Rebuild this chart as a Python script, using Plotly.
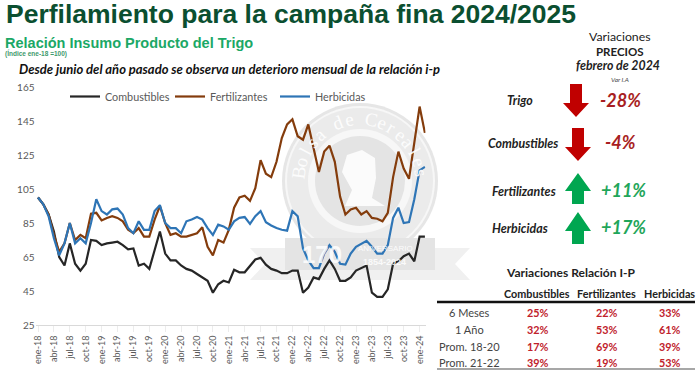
import math
import plotly.graph_objects as go

W, H = 700, 373

months = ["ene-18","feb-18","mar-18","abr-18","may-18","jun-18","jul-18","ago-18","sep-18","oct-18","nov-18","dic-18",
          "ene-19","feb-19","mar-19","abr-19","may-19","jun-19","jul-19","ago-19","sep-19","oct-19","nov-19","dic-19",
          "ene-20","feb-20","mar-20","abr-20","may-20","jun-20","jul-20","ago-20","sep-20","oct-20","nov-20","dic-20",
          "ene-21","feb-21","mar-21","abr-21","may-21","jun-21","jul-21","ago-21","sep-21","oct-21","nov-21","dic-21",
          "ene-22","feb-22","mar-22","abr-22","may-22","jun-22","jul-22","ago-22","sep-22","oct-22","nov-22","dic-22",
          "ene-23","feb-23","mar-23","abr-23","may-23","jun-23","jul-23","ago-23","sep-23","oct-23","nov-23","dic-23",
          "ene-24","feb-24"]

combustibles = [100,96,90,80,65,60,73,61,57,61,75,74.5,
                72,73,73.5,74,72,69.5,70,60,61,58,69,80,
                67,63,63,60,58,57,55,53,51,44,49,51,
                50,57.5,56,56,60,63.5,64.5,60.5,58,57,55.5,55.5,
                57,57,44,47,53,52,58,63,58,51,51,53,
                57,58.5,60,44,41.5,41.5,46,61,62.5,65.5,67,62.5,
                77,77]
fertilizantes = [100,96,90,78,68,73,85,75,78,76,90.5,91,
                 86.5,88,89,88,86,81,79,82,77,77,87,95,
                 85,78,79,77,77,78,79,82.5,71,66,75,73.5,
                 81,94,100,101,98,105.5,122,114,112,121,135,143,
                 146,136,134,143,129,115,127,130.5,121,100.5,90,93,
                 94,90,92,88,87.5,86,91,112,127,117,111,133,
                 153.5,138]
herbicidas = [100,96,89,76,66,73,85,73,76,73,85,99,
              92,90,93,93.5,90,82,79,86,81,81,92,95.5,
              85,82,82,79,86,87,88.5,87,82,78,84,83,
              81,86,88,88.5,84.5,89,92,85.5,83.5,82,81,80.5,
              92,89,70,63,58.5,58.5,67,72,68,61,60.5,67,
              71,73,74.5,71,67,67,72,88,94,85,85.5,99,
              116,118]
y_ticks = [25,45,65,85,105,125,145,165]

price_items = ["Trigo","Combustibles","Fertilizantes","Herbicidas"]
price_changes = ["-28%","-4%","+11%","+17%"]

table_cols = ["Combustibles","Fertilizantes","Herbicidas"]
table_rows = ["6 Meses","1 Año","Prom. 18-20","Prom. 21-22"]
table_combustibles = ["25%","32%","17%","39%"]
table_fertilizantes = ["22%","53%","69%","19%"]
table_herbicidas = ["33%","61%","39%","53%"]

px = lambda x: x / W
py = lambda y: 1 - y / H

SANS = "Lato, 'Open Sans', sans-serif"
ARIAL = "'Liberation Sans', Arial, sans-serif"
annotations, shapes = [], []

def text(x, y, s, size, color="#222222", anchor="center", family=SANS, angle=0):
    annotations.append(dict(x=px(x), y=py(y), xref="paper", yref="paper", text=s, showarrow=False,
                            xanchor=anchor, yanchor="middle", textangle=angle,
                            font=dict(size=size, color=color, family=family)))

def path(points, fill, layer="above"):
    d = "M" + " L".join(f"{px(a):.5f},{py(b):.5f}" for a, b in points) + " Z"
    shapes.append(dict(type="path", xref="paper", yref="paper", path=d, fillcolor=fill,
                       line=dict(width=0), layer=layer))

def circle(cx, cy, r, fill, layer="below"):
    shapes.append(dict(type="circle", xref="paper", yref="paper", x0=px(cx - r), x1=px(cx + r),
                       y0=py(cy + r), y1=py(cy - r), fillcolor=fill, line=dict(width=0), layer=layer))

def arrow(cx, top, base, end, up, color):
    hw, sw = 13, 6
    if up:
        pts = [(cx, top), (cx + hw, base), (cx + sw, base), (cx + sw, end), (cx - sw, end), (cx - sw, base), (cx - hw, base)]
    else:
        pts = [(cx, end), (cx + hw, base), (cx + sw, base), (cx + sw, top), (cx - sw, top), (cx - sw, base), (cx - hw, base)]
    path(pts, color)

# Watermark seal
circle(360, 181, 78, "#e6e6e6")
circle(360, 181, 75, "#f7f7f7")
circle(360, 181, 73, "#ebebeb")
circle(360, 181, 52, "#f7f7f7")
circle(360, 181, 45, "#e4e4e4")
path([(347, 155), (362, 150), (375, 158), (376, 178), (372, 198), (385, 206), (345, 206), (352, 190), (342, 172)],
     "#fbfbfb", "below")
path([(250, 248), (285, 248), (285, 270), (435, 270), (435, 248), (470, 248), (455, 264), (470, 280), (250, 280), (265, 264)],
     "#f0f0f0", "below")
path([(285, 238), (435, 238), (435, 270), (285, 270)], "#e4e4e4", "below")

seal_text = "Bolsa de Cereales"
for i, ch in enumerate(seal_text):
    a = -82 + i * 164 / (len(seal_text) - 1)
    rad = math.radians(a)
    text(360 + 62 * math.sin(rad), 181 - 62 * math.cos(rad), ch, 19, "rgba(255,255,255,0.9)",
         family="'Liberation Serif', serif", angle=a)
text(322, 254, "<b>170</b>", 24, "rgba(255,255,255,0.85)", family=ARIAL)
text(385, 248, "ANIVERSARIO", 8, "rgba(255,255,255,0.9)", family=ARIAL)
text(384, 262, "<b>1854-2024</b>", 9, "rgba(255,255,255,0.85)", family=ARIAL)

# Titles
text(4, 14, "<b>Perfilamiento para la campaña fina 2024/2025</b>", 26.5, "#0b4f30", "left", ARIAL)
text(3, 43, "<b>Relación Insumo Producto del Trigo</b>", 14.5, "#1ba866", "left", ARIAL)
text(3, 54, "<b>(Índice ene-18 =100)</b>", 6.5, "#3f9a6d", "left", ARIAL)
text(17, 69, "<b><i>Desde junio del año pasado se observa un deterioro mensual de la relación i-p</i></b>", 13, "#111111", "left")

# Price panel
text(620, 37, "Variaciones", 12.3)
text(620, 52, "<b>PRECIOS</b>", 11.5)
text(618, 65, "<b><i>febrero de 2024</i></b>", 12.3)
text(620, 79, "<i>Var I.A</i>", 6.5, "#444444")
item_y = [101, 143, 191, 228]
item_x = [520, 523, 524, 520]
pct_x = [620, 620, 623, 623]
pct_col = ["#a81e22", "#a81e22", "#1fa65a", "#1fa65a"]
for name, val, yy, ix, vx, col in zip(price_items, price_changes, item_y, item_x, pct_x, pct_col):
    text(ix, yy, f"<b><i>{name}</i></b>", 12.4)
    text(vx, yy - 1, f"<b><i>{val}</i></b>", 18, col)
arrow(576, 84, 103, 117, False, "#c00000")
arrow(578, 128, 147, 161, False, "#c00000")
arrow(578, 173, 191, 204, True, "#00a650")
arrow(578, 212, 231, 244, True, "#00a650")

# Table
text(570, 272, "<b>Variaciones Relación I-P</b>", 12)
col_x = [537, 606, 669]
for c, xx in zip(table_cols, col_x):
    text(xx, 293, f"<b>{c}</b>", 10.8)
row_y = [312, 329, 346, 362]
for r, yy in zip(table_rows, row_y):
    text(470, yy, r, 11, "#444444")
for vals, xx in zip([table_combustibles, table_fertilizantes, table_herbicidas], col_x):
    for v, yy in zip(vals, row_y):
        text(xx + 1, yy, f"<b>{v}</b>", 10.8, "#c0212b")
shapes.append(dict(type="line", xref="paper", yref="paper", x0=px(437), x1=px(695), y0=py(302), y1=py(302),
                   line=dict(color="#111111", width=2.5)))
shapes.append(dict(type="line", xref="paper", yref="paper", x0=px(437), x1=px(695), y0=py(369), y1=py(369),
                   line=dict(color="#8a8a8a", width=1.5)))

fig = go.Figure()
for name, vals, col in [("Combustibles", combustibles, "#262626"),
                        ("Fertilizantes", fertilizantes, "#843c0c"),
                        ("Herbicidas", herbicidas, "#2e75b6")]:
    fig.add_trace(go.Scatter(x=months, y=vals, mode="lines", name=name, line=dict(color=col, width=2.2)))

x0, x1 = 35.5, 425.5
fig.update_layout(
    width=W, height=H, margin=dict(l=0, r=0, t=0, b=0, autoexpand=False), paper_bgcolor="white",
    plot_bgcolor="rgba(0,0,0,0)", font=dict(family=SANS, color="#595959"),
    xaxis=dict(domain=[px(x0), px(x1)], type="category", categoryorder="array", categoryarray=months,
               range=[(x0 - 38) / 5.3, (x1 - 38) / 5.3], tickmode="array", tickvals=months[::3],
               ticktext=months[::3], tickangle=-90, tickfont=dict(size=9, color="#595959"),
               showgrid=False, showline=True, linecolor="#d9d9d9", linewidth=1, ticks="outside", ticklen=6,
               tickcolor="rgba(217,217,217,0.5)", zeroline=False),
    yaxis=dict(domain=[py(325), py(87)], range=[25, 165], tickvals=y_ticks, tickfont=dict(size=10, color="#595959"),
               showgrid=False, showline=False, zeroline=False, ticks=""),
    legend=dict(orientation="h", x=px(65), y=py(82), xanchor="left", yanchor="top", bgcolor="rgba(0,0,0,0)",
                entrywidth=60, entrywidthmode="pixels", font=dict(size=10.8, color="#595959")),
    annotations=annotations, shapes=shapes,
)
fig.write_html("out.html", config=dict(displayModeBar=False),
               post_script="document.body.style.margin='0';document.body.style.overflow='hidden';")
